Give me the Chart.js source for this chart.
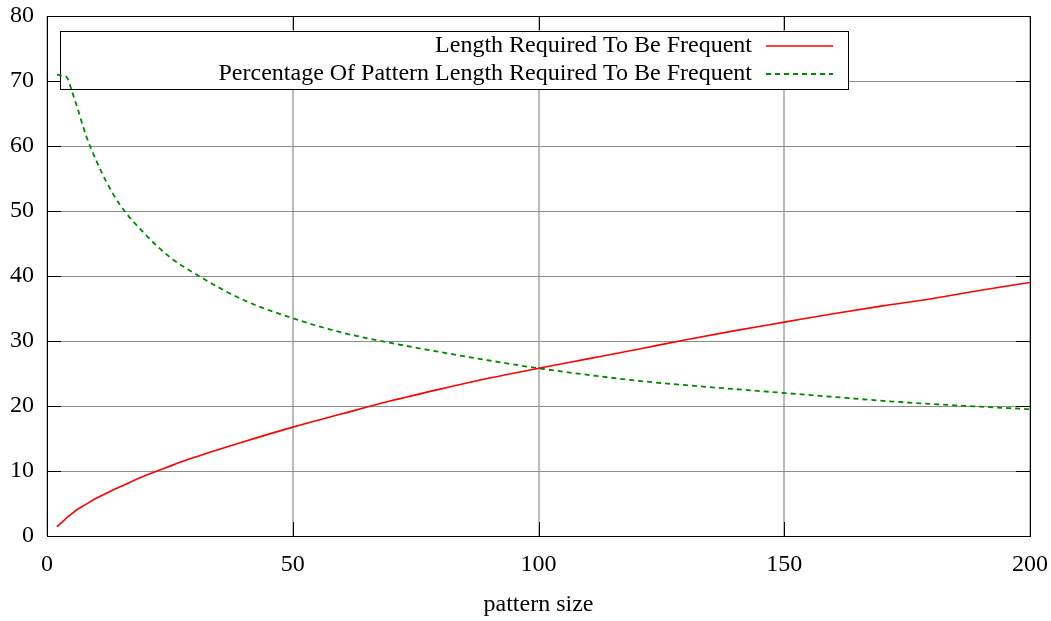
<!DOCTYPE html>
<html>
<head>
<meta charset="utf-8">
<script src="https://cdn.jsdelivr.net/npm/chart.js@4.4.1/dist/chart.umd.min.js"></script>
<style>
html, body { margin: 0; padding: 0; background: #ffffff; }
#wrap { width: 1051px; height: 621px; }
canvas { display: block; }
</style>
</head>
<body>
<div id="wrap"><canvas id="c" width="1051" height="621"></canvas></div>
<script>
// ---- data ----
const patternSize = [2, 3, 4, 5, 6, 8, 10, 12, 15, 20, 25, 30, 40, 50, 60, 70, 80, 90, 100, 110, 120, 130, 140, 150, 160, 170, 180, 190, 200];
const lengthRequired = [1.42, 2.1, 2.8, 3.4, 4.0, 4.9, 5.8, 6.55, 7.6, 9.3, 10.75, 12.1, 14.5, 16.75, 18.8, 20.8, 22.6, 24.3, 25.8, 27.25, 28.7, 30.2, 31.6, 32.9, 34.2, 35.4, 36.5, 37.8, 39.0];
const percentageRequired = [71.0, 70.8, 70.6, 68.6, 66.3, 61.5, 57.8, 54.6, 50.8, 46.4, 42.9, 40.4, 36.3, 33.5, 31.3, 29.7, 28.3, 27.0, 25.8, 24.8, 23.9, 23.2, 22.6, 22.0, 21.4, 20.8, 20.3, 19.9, 19.5];
const seriesLabels = ['Length Required To Be Frequent', 'Percentage Of Pattern Length Required To Be Frequent'];
const xTicks = [0, 50, 100, 150, 200];
const yTicks = [0, 10, 20, 30, 40, 50, 60, 70, 80];
const xAxisTitle = 'pattern size';

const FONT = "'Liberation Serif', 'Times New Roman', Times, serif";
Chart.defaults.font.family = FONT;
Chart.defaults.font.size = 24;
Chart.defaults.color = '#000000';

function toPoints(xs, ys) { return xs.map((x, i) => ({ x: x, y: ys[i] })); }

// legend in gnuplot style: text right-aligned, sample on the right, opaque box
const keyPlugin = {
  id: 'gnuplotKey',
  beforeDatasetsDraw(chart) {
    const ctx = chart.ctx, a = chart.chartArea;
    const bx = a.left + 13.5, by = a.top + 15.5, bw = 788, bh = 58;
    ctx.save();
    ctx.fillStyle = '#ffffff';
    ctx.fillRect(bx, by, bw, bh);
    ctx.strokeStyle = '#000000';
    ctx.lineWidth = 1;
    ctx.strokeRect(bx, by, bw, bh);
    ctx.font = '24px ' + FONT;
    ctx.textAlign = 'right';
    ctx.textBaseline = 'middle';
    chart.data.datasets.forEach((ds, i) => {
      const ry = a.top + 30 + i * 28;
      ctx.fillStyle = '#000000';
      ctx.fillText(ds.label, a.left + 705, ry);
      ctx.beginPath();
      ctx.strokeStyle = ds.borderColor;
      ctx.lineWidth = ds.borderWidth;
      ctx.setLineDash(ds.borderDash || []);
      ctx.moveTo(a.left + 719, ry);
      ctx.lineTo(a.left + 786, ry);
      ctx.stroke();
      ctx.setLineDash([]);
    });
    ctx.restore();
  }
};

// border frame with inward ticks on all four sides
const framePlugin = {
  id: 'gnuplotFrame',
  afterDatasetsDraw(chart) {
    const ctx = chart.ctx, a = chart.chartArea;
    const xs = chart.scales.x, ys = chart.scales.y;
    const L = 14;
    ctx.save();
    ctx.strokeStyle = '#000000';
    ctx.lineWidth = 1;
    ctx.beginPath();
    xTicks.forEach(v => {
      const px = Math.round(xs.getPixelForValue(v)) + 0.5;
      ctx.moveTo(px, a.bottom); ctx.lineTo(px, a.bottom - L);
      ctx.moveTo(px, a.top); ctx.lineTo(px, a.top + L);
    });
    yTicks.forEach(v => {
      const py = Math.round(ys.getPixelForValue(v)) + 0.5;
      ctx.moveTo(a.left, py); ctx.lineTo(a.left + L, py);
      ctx.moveTo(a.right, py); ctx.lineTo(a.right - L, py);
    });
    ctx.stroke();
    ctx.strokeRect(Math.round(a.left) + 0.5, Math.round(a.top) + 0.5,
                   Math.round(a.right) - Math.round(a.left), Math.round(a.bottom) - Math.round(a.top));
    ctx.restore();
  }
};

new Chart(document.getElementById('c'), {
  type: 'line',
  data: {
    datasets: [
      {
        label: seriesLabels[0],
        data: toPoints(patternSize, lengthRequired),
        borderColor: '#ff0000',
        borderWidth: 1.6,
        pointRadius: 0,
        fill: false,
        cubicInterpolationMode: 'monotone'
      },
      {
        label: seriesLabels[1],
        data: toPoints(patternSize, percentageRequired),
        borderColor: '#008800',
        borderWidth: 1.8,
        borderDash: [5, 4],
        pointRadius: 0,
        fill: false,
        cubicInterpolationMode: 'monotone'
      }
    ]
  },
  options: {
    responsive: false,
    animation: false,
    devicePixelRatio: 1,
    layout: { padding: { left: 0, right: 21, top: 16, bottom: 0 } },
    plugins: {
      legend: { display: false },
      tooltip: { enabled: false },
      title: { display: false }
    },
    scales: {
      x: {
        type: 'linear',
        min: 0,
        max: 200,
        afterBuildTicks(scale) { scale.ticks = xTicks.map(v => ({ value: v })); },
        afterFit(scale) { scale.height = 85; scale.paddingLeft = 0; scale.paddingRight = 0; },
        ticks: { padding: 14, color: '#000000', font: { size: 24 } },
        grid: { color: '#bbbbbb', lineWidth: 2, drawTicks: false },
        border: { display: false },
        title: { display: true, text: xAxisTitle, color: '#000000', font: { size: 24 }, padding: { top: 0, bottom: 2 } }
      },
      y: {
        type: 'linear',
        min: 0,
        max: 80,
        afterBuildTicks(scale) { scale.ticks = yTicks.map(v => ({ value: v })); },
        afterFit(scale) { scale.width = 47; scale.paddingTop = 0; scale.paddingBottom = 0; },
        ticks: { padding: 13, color: '#000000', font: { size: 24 } },
        grid: { color: '#8c8c8c', lineWidth: 1, drawTicks: false },
        border: { display: false }
      }
    }
  },
  plugins: [keyPlugin, framePlugin]
});
</script>
</body>
</html>
